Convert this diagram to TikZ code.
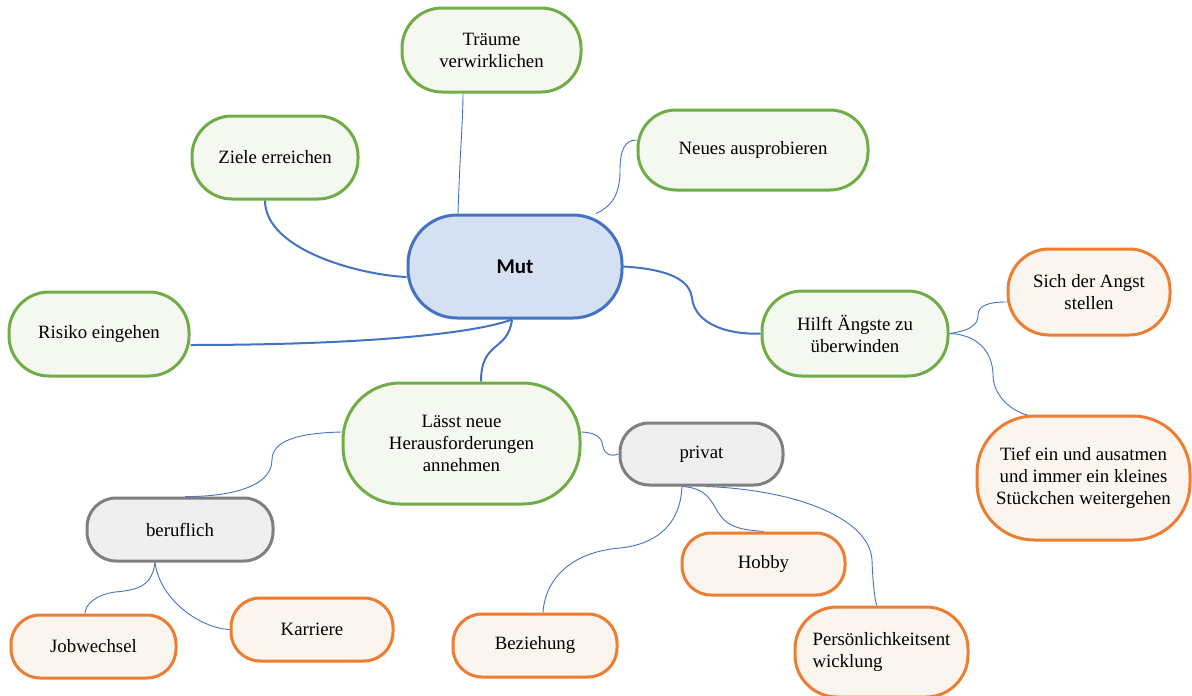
\documentclass[tikz,border=0pt]{standalone}
\usepackage{fontspec}
\setmainfont{Liberation Serif}
\newfontfamily\calfont{Carlito}
\usetikzlibrary{backgrounds}
\definecolor{cblue}{HTML}{4472C4}
\definecolor{cbluefill}{HTML}{D6E0F3}
\definecolor{cgreen}{HTML}{70AD47}
\definecolor{cgreenfill}{HTML}{F4F8F0}
\definecolor{corange}{HTML}{ED7D31}
\definecolor{corangefill}{HTML}{FBF5F0}
\definecolor{cgray}{HTML}{7F7F7F}
\definecolor{cgrayfill}{HTML}{EFEFEF}
\tikzset{
  box/.style={draw, line width=3pt, align=center, inner sep=2pt,
    font=\fontsize{18.8}{22}\selectfont},
  mainbox/.style={box, draw=cblue, fill=cbluefill, font=\calfont\bfseries\fontsize{21}{24}\selectfont},
  greenbox/.style={box, draw=cgreen, fill=cgreenfill},
  orangebox/.style={box, draw=corange, fill=corangefill},
  graybox/.style={box, draw=cgray, fill=cgrayfill},
  thickcon/.style={draw=cblue, line width=2pt},
  thincon/.style={draw=cblue, line width=0.9pt},
}
\newcommand{\bx}[7]{\node[#1, minimum width=#4pt, minimum height=#5pt, rounded corners=#6pt] (#7) at (#2,#3)}
\begin{document}
\begin{tikzpicture}[x=1pt,y=-1pt]
\useasboundingbox (0,0) rectangle (1192,696);
\bx{mainbox}{515}{266.5}{214}{103}{49}{mut} {Mut};
\bx{greenbox}{491.5}{50}{179}{84}{40}{traume} {Träume\\verwirklichen};
\bx{greenbox}{275}{157.5}{166}{83}{40}{ziele} {Ziele erreichen};
\bx{greenbox}{753}{150}{230}{80}{38}{neues} {Neues ausprobieren};
\bx{greenbox}{99}{334}{180}{84}{40}{risiko} {Risiko eingehen};
\bx{greenbox}{855}{333.5}{186}{85}{40}{hilft} {Hilft Ängste zu\\überwinden};
\bx{greenbox}{461.5}{443.5}{237}{121}{57}{lasst} {Lässt neue\\Herausforderungen\\annehmen};
\bx{graybox}{701.5}{454}{163}{62}{29}{privat} {privat};
\bx{graybox}{180}{529.5}{186}{63}{29}{beruf} {beruflich};
\bx{orangebox}{1089}{292}{162}{86}{41}{sich} {Sich der Angst\\stellen};
\bx{orangebox}{1083.5}{478}{213}{124}{57}{tief} {Tief ein und ausatmen\\und immer ein kleines\\Stückchen weitergehen};
\bx{orangebox}{763.5}{564}{163}{62}{29}{hobby} {Hobby};
\bx{orangebox}{93.5}{646.5}{165}{63}{29}{job} {Jobwechsel};
\bx{orangebox}{312}{629.5}{162}{63}{29}{karriere} {Karriere};
\bx{orangebox}{535}{645.5}{164}{63}{29}{bez} {Beziehung};
\node[orangebox, minimum width=173pt, minimum height=90pt, rounded corners=42pt, align=left] (pers) at (881.5,652) {Persönlichkeitsent\\wicklung};
\begin{scope}[on background layer]
\draw[thickcon] ([yshift=-10.5pt]mut.west) .. controls (360,275) and (265,250) .. ([xshift=-10pt]ziele.south);
\draw[thickcon] ([xshift=-3pt]mut.south) .. controls (470,335) and (350,345) .. ([yshift=-11pt]risiko.east);
\draw[thickcon] ([xshift=-3pt]mut.south) .. controls (508,352) and (481,340) .. ([xshift=19.5pt]lasst.north);
\draw[thickcon] (mut.east) .. controls (680,270) and (690,285) .. (692,298) .. controls (695,325) and (730,335) .. (hilft.west);
\draw[thincon] ([xshift=-57pt]mut.north) .. controls (460,150) and (463,120) .. ([xshift=-28.5pt]traume.south);
\draw[thincon] ([xshift=81pt]mut.north) .. controls (615,205) and (620,190) .. (620,170) .. controls (620,150) and (625,140) .. ([yshift=10pt]neues.west);
\draw[thincon] (hilft.east) .. controls (975,330) and (978,322) .. (978,315) .. controls (978,305) and (990,302) .. ([yshift=-10pt]sich.west);
\draw[thincon] (hilft.east) .. controls (985,335) and (993,360) .. (993,375) .. controls (993,400) and (1020,418) .. ([xshift=-43.5pt,yshift=-2pt]tief.north);
\draw[thincon] ([yshift=11.5pt]lasst.west) .. controls (300,433) and (272,440) .. (272,460) .. controls (272,490) and (220,497) .. ([xshift=5pt]beruf.north);
\draw[thincon] ([yshift=11.5pt]lasst.east) .. controls (600,433) and (602,440) .. (603,447) .. controls (605,455) and (612,457) .. (privat.west);
\draw[thincon] ([xshift=-19.5pt]privat.south) .. controls (680,530) and (650,545) .. (620,548) .. controls (570,552) and (545,580) .. ([xshift=8pt]bez.north);
\draw[thincon] ([xshift=-19.5pt]privat.south) .. controls (710,488) and (712,505) .. (720,515) .. controls (730,530) and (750,530) .. (hobby.north);
\draw[thincon] ([xshift=4.5pt]privat.south) .. controls (800,490) and (870,520) .. (872,560) .. controls (873,590) and (876,605) .. ([xshift=-4.5pt]pers.north);
\draw[thincon] ([xshift=-25pt]beruf.south) .. controls (152,585) and (140,590) .. (115,592) .. controls (95,595) and (85,605) .. ([xshift=-8.5pt]job.north);
\draw[thincon] ([xshift=-25pt]beruf.south) .. controls (160,600) and (200,628) .. (karriere.west);
\end{scope}
\end{tikzpicture}
\end{document}
